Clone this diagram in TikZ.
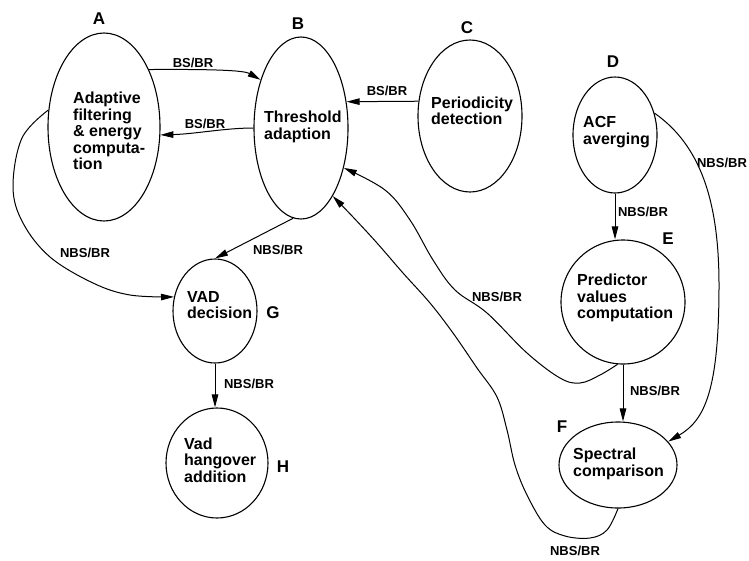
\documentclass[tikz,border=0pt]{standalone}
\usepackage{fontspec}
\setmainfont{Liberation Sans}
\usetikzlibrary{shapes.geometric,arrows.meta}
\begin{document}
\begin{tikzpicture}[x=1pt,y=-1pt,
 ell/.style={draw, ellipse, line width=1.1pt, inner sep=0pt},
 txt/.style={anchor=west, align=left, inner sep=0pt, font=\fontsize{16}{16.5}\selectfont\bfseries},
 lab/.style={inner sep=0pt, font=\fontsize{13}{13}\selectfont\bfseries},
 letter/.style={inner sep=0pt, font=\fontsize{17}{17}\selectfont\bfseries},
 arr/.style={line width=1pt, -{Triangle[length=13pt,width=6.5pt]}},
]
\useasboundingbox (0,0) rectangle (749,560);

% ellipses
\node[ell, minimum width=112pt, minimum height=188pt] (A) at (104,127) {};
\node[ell, minimum width=94pt, minimum height=182pt] (B) at (301,128) {};
\node[ell, minimum width=104pt, minimum height=152pt] (C) at (470,116) {};
\node[ell, minimum width=84pt, minimum height=116pt] (D) at (615,135) {};
\node[ell, minimum width=124pt, minimum height=124pt] (E) at (623,302) {};
\node[ell, minimum width=118pt, minimum height=86pt] (F) at (618,465) {};
\node[ell, minimum width=84pt, minimum height=104pt] (G) at (215,311) {};
\node[ell, minimum width=102pt, minimum height=110pt] (H) at (217,463) {};

% texts
\node[txt] (At) at (73,131) {Adaptive\\filtering\\\& energy\\computa-\\tion};
\node[txt] (Bt) at (264,127) {Threshold\\adaption};
\node[txt] (Ct) at (431,111) {Periodicity\\detection};
\node[txt] (Dt) at (583,132) {ACF\\averging};
\node[txt] (Et) at (577,298) {Predictor\\values\\computation};
\node[txt] (Ft) at (573,464) {Spectral\\comparison};
\node[txt] (Gt) at (187,305) {VAD\\decision};
\node[txt] (Ht) at (184,460) {Vad\\hangover\\addition};

% letters
\node[letter] (LA) at (99,19) {A};
\node[letter] (LB) at (298,24) {B};
\node[letter] (LC) at (467,28) {C};
\node[letter] (LD) at (613,62) {D};
\node[letter] (LE) at (668,239) {E};
\node[letter] (LF) at (562,427) {F};
\node[letter] (LG) at (273,313) {G};
\node[letter] (LH) at (283,467) {H};

% connectors
\draw[arr] (A.52) .. controls (225,69) and (245,71) .. (B.130);
\draw[arr] (B.180) .. controls (225,128) and (195,134) .. (A.-8);
\draw[arr] (C.164) -- (B.30);
\draw[arr] (D.29) .. controls (700,145) and (719,200) .. (719,285) .. controls (719,390) and (705,420) .. (F.25);
\draw[arr] (D.south) -- (D.south |- E.north);
\draw[arr] (E.south) -- (E.south |- F.north);
\draw[arr] plot[smooth, tension=0.6] coordinates {(E.-95) (600,375) (580,383) (560,378) (527,353) (487,313) (455,290) (433,260) (410,220) (385,190) (B.-43)};
\draw[arr] plot[smooth, tension=0.6] coordinates {(F.south) (607,530) (590,538) (565,536) (545,525) (527,495) (515,465) (507,430) (497,397) (477,368) (453,333) (430,303) (403,273) (377,243) (353,217) (B.-65)};
\draw[arr] (B.-95) -- (G.north);
\draw[arr] plot[smooth, tension=0.6] coordinates {(A.163) (22,138) (13,187) (23,223) (50,257) (93,283) (130,295) (G.161)};
\draw[arr] (G.south) -- (G.south |- H.north);

% edge labels
\node[lab] (l1) at (193,63) {BS/BR};
\node[lab] (l2) at (205,124) {BS/BR};
\node[lab] (l3) at (387,91) {BS/BR};
\node[lab] (l4) at (722,163) {NBS/BR};
\node[lab] (l5) at (643,212) {NBS/BR};
\node[lab] (l6) at (655,391) {NBS/BR};
\node[lab] (l7) at (497,297) {NBS/BR};
\node[lab] (l8) at (575,551) {NBS/BR};
\node[lab] (l9) at (278,250) {NBS/BR};
\node[lab] (l10) at (85,253) {NBS/BR};
\node[lab] (l11) at (249,384) {NBS/BR};
\end{tikzpicture}
\end{document}
